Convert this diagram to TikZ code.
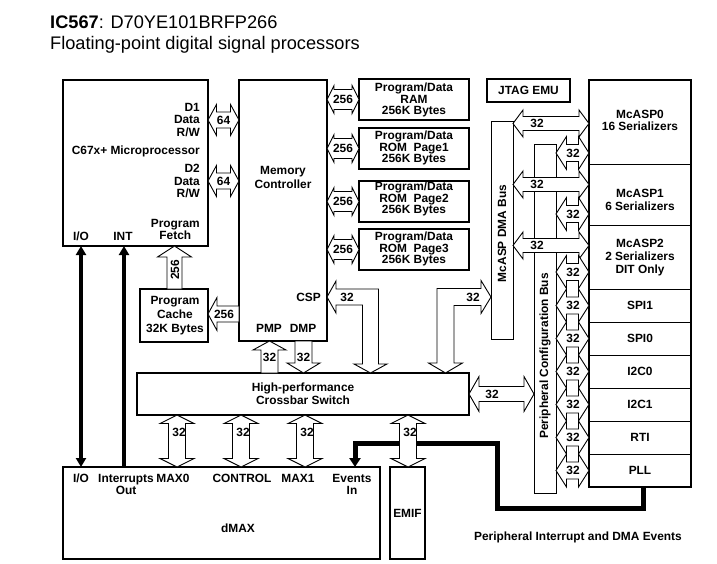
\documentclass[tikz,border=0pt]{standalone}
\usepackage{fontspec}
\setmainfont{Liberation Sans}
\usetikzlibrary{calc,arrows.meta}
% block-arrow helpers (y in px, downward)
\newcommand\HDA[6]{\draw[blk] let \p1=(#1),\p2=(#2),\p3=(0,#3) in (\x1,\y3) -- (\x1+#6pt,\y3+#5pt) -- (\x1+#6pt,\y3+#4pt) -- (\x2-#6pt,\y3+#4pt) -- (\x2-#6pt,\y3+#5pt) -- (\x2,\y3) -- (\x2-#6pt,\y3-#5pt) -- (\x2-#6pt,\y3-#4pt) -- (\x1+#6pt,\y3-#4pt) -- (\x1+#6pt,\y3-#5pt) -- cycle;}
\newcommand\VDA[6]{\draw[blk] let \p1=(#1),\p2=(#2),\p3=(#3,0) in (\x3,\y1) -- (\x3+#5pt,\y1-#6pt) -- (\x3+#4pt,\y1-#6pt) -- (\x3+#4pt,\y2+#6pt) -- (\x3+#5pt,\y2+#6pt) -- (\x3,\y2) -- (\x3-#5pt,\y2+#6pt) -- (\x3-#4pt,\y2+#6pt) -- (\x3-#4pt,\y1-#6pt) -- (\x3-#5pt,\y1-#6pt) -- cycle;}
\newcommand\VUA[6]{\draw[blk] let \p1=(#1),\p2=(#2),\p3=(#3,0) in (\x3,\y1) -- (\x3+#5pt,\y1-#6pt) -- (\x3+#4pt,\y1-#6pt) -- (\x3+#4pt,\y2) -- (\x3-#4pt,\y2) -- (\x3-#4pt,\y1-#6pt) -- (\x3-#5pt,\y1-#6pt) -- cycle;}
\newcommand\VDNA[6]{\draw[blk] let \p1=(#1),\p2=(#2),\p3=(#3,0) in (\x3,\y2) -- (\x3+#5pt,\y2+#6pt) -- (\x3+#4pt,\y2+#6pt) -- (\x3+#4pt,\y1) -- (\x3-#4pt,\y1) -- (\x3-#4pt,\y2+#6pt) -- (\x3-#5pt,\y2+#6pt) -- cycle;}
\newcommand\HLA[6]{\draw[blk] let \p1=(#1),\p2=(#2),\p3=(0,#3) in (\x1,\y3) -- (\x1+#6pt,\y3+#5pt) -- (\x1+#6pt,\y3+#4pt) -- (\x2,\y3+#4pt) -- (\x2,\y3-#4pt) -- (\x1+#6pt,\y3-#4pt) -- (\x1+#6pt,\y3-#5pt) -- cycle;}
\begin{document}
\begin{tikzpicture}[x=1pt,y=-1pt,
  box/.style={draw, line width=1.5pt, inner sep=0pt, outer sep=0pt, fill=white},
  perbox/.style={draw, line width=0.7pt, inner sep=0pt, outer sep=0pt, minimum width=102pt},
  bus/.style={draw, line width=0.9pt, inner sep=0pt, outer sep=0pt, fill=white},
  blk/.style={draw, fill=white, line width=0.9pt, line join=miter},
  lbl/.style={font=\fontsize{11.9}{12.6}\selectfont\bfseries, inner sep=0pt, align=center},
  fat/.style={line width=4pt},
  evt/.style={line width=5pt}]
\useasboundingbox (0,0) rectangle (717,564);
% title
\node[anchor=base west, inner sep=0pt, font=\fontsize{18.2}{21}\selectfont] (t1) at (50,29) {\textbf{IC567}: D70YE101BRFP266};
\node[anchor=base west, inner sep=0pt, font=\fontsize{18.2}{21}\selectfont] (t2) at (50,50) {Floating-point digital signal processors};
% boxes
\node[box, minimum width=145pt, minimum height=166pt] (cpu) at (135.5,163) {};
\node[box, minimum width=88pt, minimum height=261pt] (mc) at (283,210.5) {};
\node[box, minimum width=110pt, minimum height=41pt] (ram) at (414,99.5) {};
\node[box, minimum width=110pt, minimum height=41pt] (rom1) at (414,148.5) {};
\node[box, minimum width=110pt, minimum height=41pt] (rom2) at (414,201.5) {};
\node[box, minimum width=110pt, minimum height=41pt] (rom3) at (414,249.5) {};
\node[box, minimum width=83pt, minimum height=23pt, lbl] (jtag) at (528.5,90.5) {JTAG EMU};
\node[box, minimum width=68pt, minimum height=53pt] (cache) at (174,315.5) {};
\node[box, minimum width=332pt, minimum height=42pt] (xbar) at (303,394) {};
\node[box, minimum width=317pt, minimum height=92pt] (dmax) at (221.5,513) {};
\node[box, minimum width=35pt, minimum height=92pt, lbl] (emif) at (407.5,513) {EMIF};
\node[bus, minimum width=22pt, minimum height=218pt] (dmabus) at (502,230) {};
\node[bus, minimum width=22pt, minimum height=349pt] (cfgbus) at (545,318.5) {};
% peripheral stack
\node[perbox, minimum height=84pt] (mcasp0) at (640,122) {};
\node[perbox, minimum height=61pt] (mcasp1) at (640,194.5) {};
\node[perbox, minimum height=64pt] (mcasp2) at (640,257) {};
\node[perbox, minimum height=33pt, lbl] (spi1) at (640,305.5) {SPI1};
\node[perbox, minimum height=33pt, lbl] (spi0) at (640,338.5) {SPI0};
\node[perbox, minimum height=33pt, lbl] (i2c0) at (640,371.5) {I2C0};
\node[perbox, minimum height=33pt, lbl] (i2c1) at (640,404.5) {I2C1};
\node[perbox, minimum height=33pt, lbl] (rti) at (640,437.5) {RTI};
\node[perbox, minimum height=33pt, lbl] (pll) at (640,470.5) {PLL};
\draw[line width=1.5pt] (mcasp0.north west) rectangle (pll.south east);
% thick signal lines
\coordinate (ev1) at (497,508);
\coordinate (ev2) at (497,443);
\draw[evt, -{Triangle[width=11pt,length=9pt]}] ($(pll.south)+(3,0)$) |- (ev1) -- (ev2) -| (dmax.north -| 355,0);
\draw[fat, {Triangle[width=10pt,length=9pt]}-{Triangle[width=10pt,length=9pt]}] (cpu.south -| 81,0) -- (dmax.north -| 81,0);
\draw[fat, {Triangle[width=10pt,length=9pt]}-] (cpu.south -| 124,0) -- (dmax.north -| 124,0);
% block arrows CPU <-> memory controller
\HDA{cpu.east}{mc.west}{120}{8}{15.5}{8.5}
\HDA{cpu.east}{mc.west}{181}{8}{15.5}{8.5}
% memory controller <-> memories
\HDA{mc.east}{ram.west}{99.5}{10}{14}{7}
\HDA{mc.east}{rom1.west}{148.5}{10}{14}{7}
\HDA{mc.east}{rom2.west}{201.5}{10}{14}{7}
\HDA{mc.east}{rom3.west}{249.5}{10}{14}{7}
% cache
\VUA{cpu.south}{cache.north}{174.5}{7.5}{17}{11}
\HLA{cache.east}{mc.west}{314}{8}{16.5}{9}
% PMP / DMP
\VUA{mc.south}{xbar.north}{269.5}{8.5}{16.5}{9}
\VDNA{mc.south}{xbar.north}{303.5}{8.5}{16.5}{10}
% CSP bent arrow
\draw[blk] let \p1=(mc.east), \p2=(xbar.north), \p3=(370.5,297) in
  (\x1,\y3) -- (\x1+9pt,\y3+16pt) -- (\x1+9pt,\y3+8pt) -- (\x3+8pt,\y3+8pt) -- (\x3+8pt,\y2+9pt) -- (\x3+16.5pt,\y2+9pt) -- (\x3,\y2) -- (\x3-16.5pt,\y2+9pt) -- (\x3-8pt,\y2+9pt) -- (\x3-8pt,\y3-8pt) -- (\x1+9pt,\y3-8pt) -- (\x1+9pt,\y3-16pt) -- cycle;
% crossbar -> McASP DMA bus bent arrow
\draw[blk] let \p1=(445.5,0), \p2=(xbar.north), \p3=(dmabus.west), \p4=(0,297) in
  (\x1,\y2) -- (\x1+17pt,\y2+10pt) -- (\x1+8.5pt,\y2+10pt) -- (\x1+8.5pt,\y4-8.5pt) -- (\x3-10pt,\y4-8.5pt) -- (\x3-10pt,\y4-16.5pt) -- (\x3,\y4) -- (\x3-10pt,\y4+16.5pt) -- (\x3-10pt,\y4+8.5pt) -- (\x1-8.5pt,\y4+8.5pt) -- (\x1-8.5pt,\y2+10pt) -- (\x1-17pt,\y2+10pt) -- cycle;
% crossbar <-> config bus
\HDA{xbar.east}{cfgbus.west}{394}{7.5}{17.5}{10}
% crossbar <-> dMAX / EMIF
\VDA{xbar.south}{dmax.north}{177}{8.5}{17}{8.5}
\VDA{xbar.south}{dmax.north}{241}{8.5}{17}{8.5}
\VDA{xbar.south}{dmax.north}{305}{8.5}{17}{8.5}
\VDA{xbar.south}{emif.north}{408}{8.5}{17}{8.5}
% DMA bus <-> McASPs
\HDA{dmabus.east}{mcasp0.west}{123.5}{7}{13.5}{10}
\HDA{dmabus.east}{mcasp1.west}{184.5}{7}{13.5}{10}
\HDA{dmabus.east}{mcasp2.west}{245.5}{7}{13.5}{10}
% config bus <-> peripherals
\HDA{cfgbus.east}{mcasp0.west}{153}{8.5}{16.5}{10.5}
\HDA{cfgbus.east}{mcasp1.west}{214}{8.5}{16.5}{10.5}
\HDA{cfgbus.east}{mcasp2.west}{272}{8.5}{16.5}{10.5}
\HDA{cfgbus.east}{spi1.west}{305.5}{8.5}{16.5}{10.5}
\HDA{cfgbus.east}{spi0.west}{338.5}{8.5}{16.5}{10.5}
\HDA{cfgbus.east}{i2c0.west}{371.5}{8.5}{16.5}{10.5}
\HDA{cfgbus.east}{i2c1.west}{404.5}{8.5}{16.5}{10.5}
\HDA{cfgbus.east}{rti.west}{437.5}{8.5}{16.5}{10.5}
\HDA{cfgbus.east}{pll.west}{470.5}{8.5}{16.5}{10.5}
% ---- labels ----
\node[lbl, anchor=east, align=right] (d1) at (200,120) {D1\\Data\\R/W};
\node[lbl, anchor=east] (cpul) at (200,151) {C67x+ Microprocessor};
\node[lbl, anchor=east, align=right] (d2) at (200,181) {D2\\Data\\R/W};
\node[lbl, anchor=east] (pf) at (200,229.5) {Program\\Fetch};
\node[lbl] (io) at (81,236) {I/O};
\node[lbl] (int) at (123,236) {INT};
\node[lbl, font=\fontsize{11.9}{14.5}\selectfont\bfseries] (mcl) at (283,177.5) {Memory\\Controller};
\node[lbl, anchor=east] (csp) at (321,297) {CSP};
\node[lbl] (pmp) at (269,328) {PMP};
\node[lbl] (dmp) at (303,328) {DMP};
\node[lbl, font=\fontsize{11.9}{11.8}\selectfont\bfseries] (raml) at (414,100) {Program/Data\\RAM\\256K Bytes};
\node[lbl, font=\fontsize{11.9}{11.8}\selectfont\bfseries] (rom1l) at (414,148) {Program/Data\\ROM\ \ Page1\\256K Bytes};
\node[lbl, font=\fontsize{11.9}{11.8}\selectfont\bfseries] (rom2l) at (414,199) {Program/Data\\ROM\ \ Page2\\256K Bytes};
\node[lbl, font=\fontsize{11.9}{11.8}\selectfont\bfseries] (rom3l) at (414,249) {Program/Data\\ROM\ \ Page3\\256K Bytes};
\node[lbl, font=\fontsize{11.9}{14}\selectfont\bfseries] (cachel) at (175,316) {Program\\Cache\\32K Bytes};
\node[lbl] (xbarl) at (303,393.5) {High-performance\\Crossbar Switch};
\node[lbl] (m0l) at (640,120.5) {McASP0\\16 Serializers};
\node[lbl] (m1l) at (640,200) {McASP1\\6 Serializers};
\node[lbl] (m2l) at (640,257.5) {McASP2\\2 Serializers\\DIT Only};
\node[lbl, rotate=90] (dmal) at (502,233.5) {McASP DMA Bus};
\node[lbl, rotate=90] (cfgl) at (545,356) {Peripheral Configuration Bus};
\node[lbl] (dio) at (81,478) {I/O};
\node[lbl, anchor=north] (dint) at (126,474) {Interrupts\\Out};
\node[lbl] (dm0) at (173,478) {MAX0};
\node[lbl] (dctl) at (242,478) {CONTROL};
\node[lbl] (dm1) at (298,478) {MAX1};
\node[lbl, anchor=north] (dev) at (352,474) {Events\\In};
\node[lbl] (dmaxl) at (238,528) {dMAX};
\node[lbl] (evl) at (578,537) {Peripheral Interrupt and DMA Events};
% arrow width labels
\node[lbl] (w64a) at (223.5,120) {64};
\node[lbl] (w64b) at (223.5,181) {64};
\node[lbl] (w256a) at (343,99.5) {256};
\node[lbl] (w256b) at (343,148.5) {256};
\node[lbl] (w256c) at (343,201.5) {256};
\node[lbl] (w256d) at (343,249.5) {256};
\node[lbl, rotate=90] (w256e) at (175,270) {256};
\node[lbl] (w256f) at (224,314) {256};
\node[lbl] (wpmp) at (269.5,357) {32};
\node[lbl] (wdmp) at (303.5,357) {32};
\node[lbl] (wcsp) at (347,297) {32};
\node[lbl] (wdma) at (473,297) {32};
\node[lbl] (wxc) at (492,394) {32};
\node[lbl] (wx0) at (179,432) {32};
\node[lbl] (wx1) at (243,432) {32};
\node[lbl] (wx2) at (307,432) {32};
\node[lbl] (wx3) at (410,432) {32};
\node[lbl] (wd0) at (537,123) {32};
\node[lbl] (wd1) at (537,184) {32};
\node[lbl] (wd2) at (537,245) {32};
\foreach \yy [count=\i] in {153,214,272,305.5,338.5,371.5,404.5,437.5,470.5}
  \node[lbl] (wc\i) at (573,\yy) {32};
\end{tikzpicture}
\end{document}
